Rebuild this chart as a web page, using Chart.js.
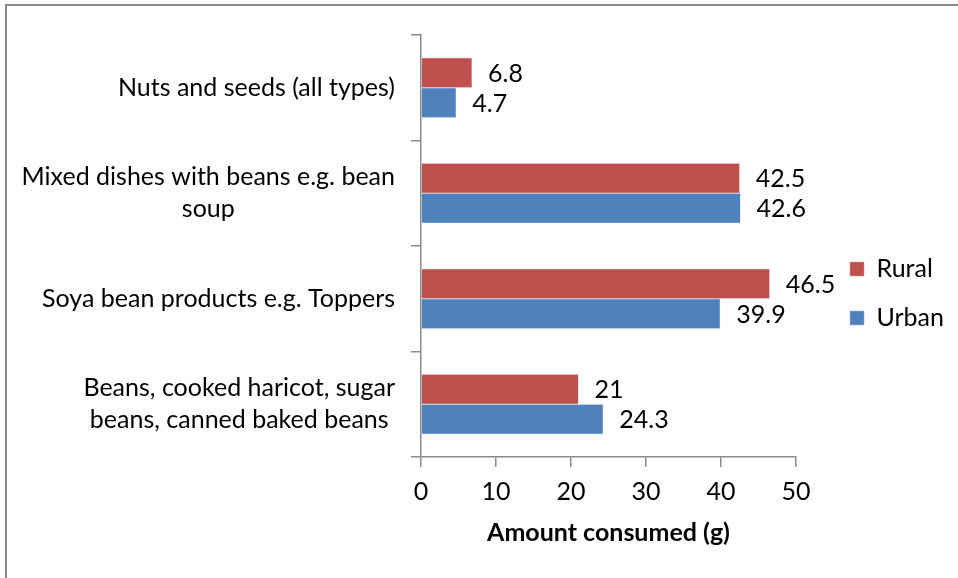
<!DOCTYPE html>
<html>
<head>
<meta charset="utf-8">
<script src="https://cdn.jsdelivr.net/npm/chart.js@4/dist/chart.umd.min.js"></script>
<style>
  html, body { margin: 0; padding: 0; background: #ffffff; }
  #wrap { position: relative; width: 958px; height: 578px; overflow: hidden; }
  #frame { position: absolute; left: 5px; top: 4px; width: 1000px; height: 1000px;
           border-left: 2px solid #8a8a8a; border-top: 2px solid #8a8a8a; box-sizing: border-box; }
  canvas { position: absolute; left: 0; top: 0; }
</style>
</head>
<body>
<div id="wrap">
  <div id="frame"></div>
  <canvas id="chart" width="958" height="578"></canvas>
</div>
<script>
// Food categories (top to bottom) and amounts consumed per setting
const categories = [
  ["Nuts and seeds (all types)"],
  ["Mixed dishes with beans e.g. bean", "soup"],
  ["Soya bean products e.g. Toppers"],
  ["Beans, cooked haricot, sugar", "beans, canned baked beans"]
];
const rural = [6.8, 42.5, 46.5, 21];
const urban = [4.7, 42.6, 39.9, 24.3];
const seriesNames = ["Rural", "Urban"];
const xTicks = [0, 10, 20, 30, 40, 50];

const FONT = "Lato";
const FS = 25;
const AXIS_GREY = "#8a8a8a";

// Value labels drawn just past the end of each bar
const valueLabels = {
  id: "valueLabels",
  afterDatasetsDraw(chart) {
    const ctx = chart.ctx;
    ctx.save();
    ctx.font = FS + "px " + FONT;
    ctx.fillStyle = "#000";
    ctx.textAlign = "left";
    ctx.textBaseline = "middle";
    chart.data.datasets.forEach((ds, di) => {
      chart.getDatasetMeta(di).data.forEach((bar, i) => {
        ctx.fillText(String(ds.data[i]), bar.x + 16, bar.y + 1);
      });
    });
    ctx.restore();
  }
};

// Category labels: block right-aligned against the axis, lines centred inside the block
const categoryLabels = {
  id: "categoryLabels",
  afterDraw(chart) {
    const ctx = chart.ctx;
    const y = chart.scales.y;
    const right = y.right - 26;
    const lh = 32;
    ctx.save();
    ctx.font = FS + "px " + FONT;
    ctx.fillStyle = "#000";
    ctx.textBaseline = "middle";
    ctx.textAlign = "center";
    chart.data.labels.forEach((lines, i) => {
      const cy = y.getPixelForValue(i);
      const w = Math.max(...lines.map(l => ctx.measureText(l).width));
      const cx = right - w / 2;
      const y0 = cy - (lines.length - 1) * lh / 2;
      lines.forEach((l, k) => ctx.fillText(l, cx, y0 + k * lh));
    });
    ctx.restore();
  }
};

// Nudge the legend block to sit a little further right and higher than its layout slot
const legendNudge = {
  id: "legendNudge",
  afterLayout(chart) {
    const lg = chart.legend;
    if (!lg) return;
    lg.left += 30; lg.right += 30;
    lg.top -= 13; lg.bottom -= 13;
  }
};

new Chart(document.getElementById("chart"), {
  type: "bar",
  data: {
    labels: categories,
    datasets: [
      { label: seriesNames[0], data: rural, backgroundColor: "#C0504D", borderColor: "#D99795", borderWidth: 0.5 },
      { label: seriesNames[1], data: urban, backgroundColor: "#4F81BD", borderColor: "#95B3D7", borderWidth: 0.5 }
    ]
  },
  options: {
    indexAxis: "y",
    responsive: false,
    animation: false,
    devicePixelRatio: 1,
    datasets: { bar: { categoryPercentage: 0.57, barPercentage: 1.0 } },
    layout: { padding: { top: 35, right: 34, bottom: 0, left: 0 } },
    plugins: {
      tooltip: { enabled: false },
      legend: {
        position: "right",
        align: "center",
        labels: {
          font: { family: FONT, size: FS },
          color: "#000",
          boxWidth: 14,
          boxHeight: 14,
          padding: 24
        }
      }
    },
    scales: {
      x: {
        type: "linear",
        min: 0,
        max: 50,
        afterBuildTicks(scale) { scale.ticks = xTicks.map(v => ({ value: v })); },
        afterFit(scale) { scale.height = 121; },
        grid: { drawOnChartArea: false, drawTicks: true, tickLength: 10, color: AXIS_GREY, lineWidth: 1.5 },
        border: { display: true, color: AXIS_GREY, width: 1.5 },
        ticks: { font: { family: FONT, size: FS }, color: "#000", padding: 10 },
        title: {
          display: true,
          text: "Amount consumed (g)",
          font: { family: FONT, size: FS, weight: "bold" },
          color: "#000",
          padding: { top: 0, bottom: 30 }
        }
      },
      y: {
        type: "category",
        offset: true,
        afterFit(scale) { scale.width = 421; },
        grid: { offset: true, drawOnChartArea: false, drawTicks: true, tickLength: 10, color: AXIS_GREY, lineWidth: 1.5 },
        border: { display: true, color: AXIS_GREY, width: 1.5 },
        ticks: { display: false }
      }
    }
  },
  plugins: [valueLabels, categoryLabels, legendNudge]
});
</script>
</body>
</html>
